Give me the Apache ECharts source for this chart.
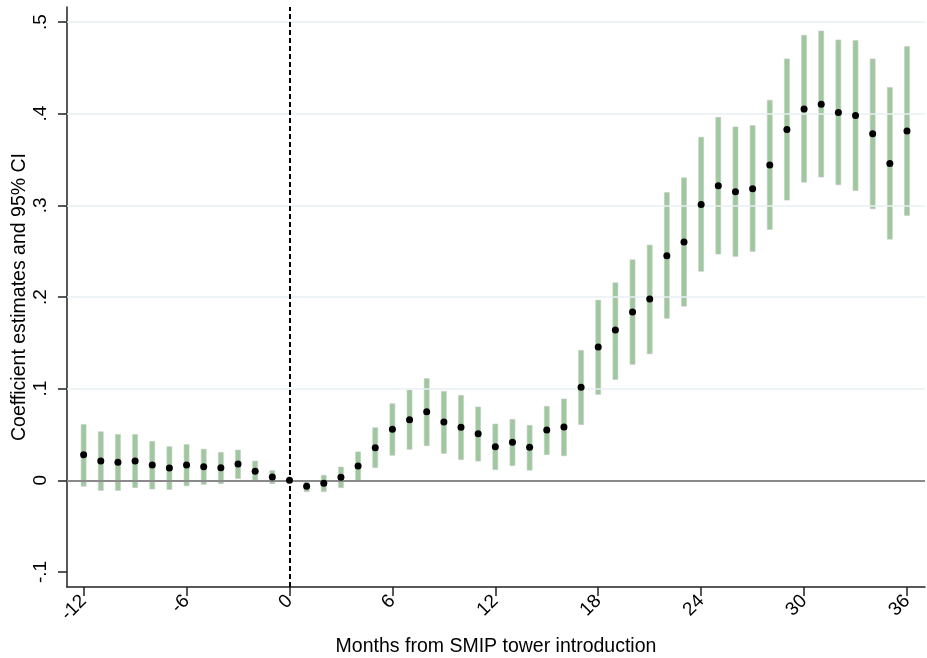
<!DOCTYPE html>
<html>
<head>
<meta charset="utf-8">
<script src="https://cdn.jsdelivr.net/npm/echarts@6/dist/echarts.min.js"></script>
<style>html,body{margin:0;padding:0;background:#fff}#c{width:927px;height:658px}</style>
</head>
<body>
<div id="c"></div>
<script>
const months = [-12,-11,-10,-9,-8,-7,-6,-5,-4,-3,-2,-1,0,1,2,3,4,5,6,7,8,9,10,11,12,13,14,15,16,17,18,19,20,21,22,23,24,25,26,27,28,29,30,31,32,33,34,35,36];
const estimates = [0.028,0.021,0.0196,0.021,0.0167,0.0134,0.0167,0.0149,0.0138,0.0178,0.010,0.0036,0,-0.0066,-0.0033,0.0033,0.0156,0.0356,0.0556,0.066,0.0748,0.0636,0.0578,0.0508,0.0367,0.0414,0.036,0.0549,0.0581,0.1014,0.1454,0.164,0.1835,0.1977,0.245,0.260,0.301,0.3213,0.3147,0.318,0.344,0.3828,0.4052,0.4104,0.4013,0.398,0.378,0.3457,0.3812];
const ciUpper = [0.061,0.053,0.050,0.050,0.0425,0.0367,0.039,0.034,0.0305,0.033,0.021,0.0105,0,-0.002,0.0055,0.0145,0.031,0.0574,0.0836,0.0985,0.111,0.097,0.0927,0.080,0.0614,0.0665,0.060,0.0807,0.0887,0.1418,0.1966,0.2155,0.2406,0.2566,0.314,0.330,0.3744,0.396,0.3856,0.387,0.4147,0.4598,0.4856,0.4903,0.4805,0.4798,0.4598,0.4286,0.4733];
const ciLower = [-0.0065,-0.011,-0.011,-0.008,-0.0095,-0.010,-0.006,-0.0044,-0.0037,0.002,-0.001,-0.0037,0,-0.0124,-0.0124,-0.008,-0.001,0.0138,0.0273,0.0338,0.0377,0.0294,0.0225,0.021,0.0116,0.016,0.011,0.028,0.0268,0.0607,0.0938,0.110,0.1265,0.138,0.1767,0.190,0.228,0.2468,0.2443,0.2497,0.2737,0.3057,0.3253,0.3308,0.3224,0.3162,0.2962,0.263,0.289];
const xTicks = [-12,-6,0,6,12,18,24,30,36];
const yTicks = [-0.1,0,0.1,0.2,0.3,0.4,0.5];
const gridValues = [0.1,0.2,0.3,0.4,0.5];

const fmtY = v => {
  if (Math.abs(v) < 1e-9) return '0';
  let s = (Math.round(v*10)/10).toString();
  return s.replace(/^(-?)0\./, '$1.');
};

const ciData = months.map((m,i)=>[m, ciLower[i], ciUpper[i]]).filter((d,i)=>months[i]!==0);
const ptData = months.map((m,i)=>[m, estimates[i]]);
const FONT = '"Liberation Sans", Arial, Helvetica, sans-serif';

const chart = echarts.init(document.getElementById('c'), null, {renderer:'canvas'});
chart.setOption({
  animation:false,
  backgroundColor:'#fff',
  grid:{left:67, right:2, top:7, bottom:71, containLabel:false, outerBoundsMode:'none'},
  xAxis:{
    type:'value', min:-12.97, max:37.05,
    name:'Months from SMIP tower introduction', nameLocation:'middle', nameGap:50, nameMoveOverlap:false,
    nameTextStyle:{fontFamily:FONT, fontSize:19.5, color:'#000'},
    axisLine:{show:true, onZero:false, lineStyle:{color:'#222', width:1.5}},
    axisTick:{show:true, length:9, lineStyle:{color:'#222', width:1.5}, customValues:xTicks},
    axisLabel:{rotate:45, fontFamily:FONT, fontSize:19, color:'#000', margin:11, customValues:xTicks, showMinLabel:true, showMaxLabel:true},
    splitLine:{show:false}
  },
  yAxis:{
    type:'value', min:-0.1164, max:0.5164,
    name:'Coefficient estimates and 95% CI', nameLocation:'middle', nameGap:37, nameRotate:90, nameMoveOverlap:false,
    nameTextStyle:{fontFamily:FONT, fontSize:19.5, color:'#000'},
    axisLine:{show:true, onZero:false, lineStyle:{color:'#222', width:1.5}},
    axisTick:{show:true, length:9, lineStyle:{color:'#222', width:1.5}, customValues:yTicks},
    axisLabel:{rotate:90, fontFamily:FONT, fontSize:19, color:'#000', margin:17, customValues:yTicks, formatter:fmtY, showMinLabel:true, showMaxLabel:true},
    splitLine:{show:false}
  },
  series:[
    {
      type:'line', data:[], silent:true, z:1,
      markLine:{symbol:'none', silent:true, label:{show:false},
        lineStyle:{color:'#e8eff2', width:1.5, type:'solid'},
        data:gridValues.map(v=>({yAxis:v}))}
    },
    {
      type:'line', data:[], silent:true, z:2,
      markLine:{symbol:'none', silent:true, label:{show:false},
        lineStyle:{color:'#8a8a8a', width:2, type:'solid'},
        data:[{yAxis:0}]}
    },
    {
      type:'custom', z:3, silent:true,
      data:ciData,
      renderItem:(params, api)=>{
        const x = api.value(0);
        const p1 = api.coord([x, api.value(2)]);
        const p2 = api.coord([x, api.value(1)]);
        const w = 5;
        return {type:'rect', shape:{x:p1[0]-w/2, y:p1[1], width:w, height:p2[1]-p1[1]},
          style:{fill:'#9fc89f', stroke:'#c4cbc4', lineWidth:0.6}};
      }
    },
    {
      type:'line', data:[], silent:true, z:4,
      markLine:{symbol:'none', silent:true, label:{show:false},
        lineStyle:{color:'#000', width:2, type:[5,3]},
        data:[{xAxis:0}]}
    },
    {
      type:'scatter', z:5, silent:true, data:ptData,
      symbol:'circle', symbolSize:7,
      itemStyle:{color:'#000', opacity:1}
    }
  ]
});
</script>
</body>
</html>
